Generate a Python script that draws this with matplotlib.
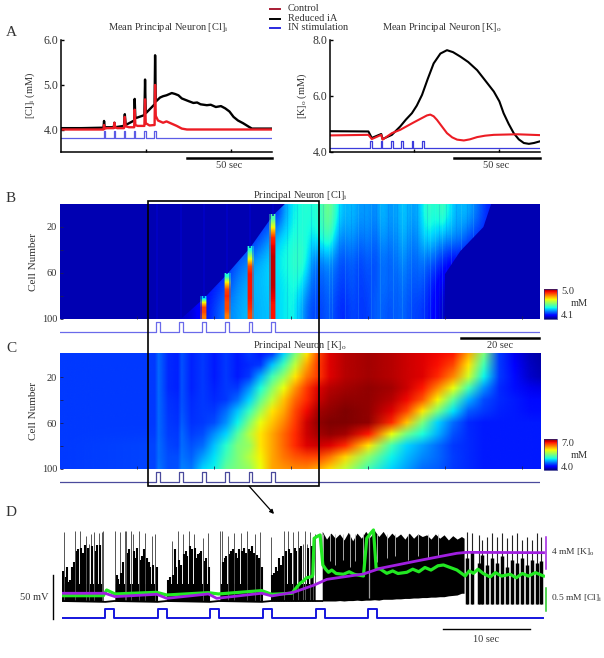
import numpy as np
import matplotlib
matplotlib.use('Agg')
from matplotlib import pyplot as plt
from matplotlib.colors import Normalize
from matplotlib.image import NonUniformImage
from matplotlib.patches import Polygon, Rectangle

plt.rcParams['font.family'] = 'Liberation Serif'
plt.rcParams['mathtext.fontset'] = 'custom'
plt.rcParams['mathtext.rm'] = 'Liberation Serif'
plt.rcParams['mathtext.default'] = 'rm'

W, H = 604, 658
TXT = '#333333'

# --- panel A, mean [Cl]i (time in sec, conc in mM)
cl_black_t = [0, 12, 25, 25.3, 25.7, 31, 31.4, 31.8, 37, 37.5, 38, 43, 43.3, 43.7, 49, 49.4, 49.8, 55, 55.3, 55.7,
              58.2, 60, 62, 65.1, 67, 69, 71, 73, 75, 77.8, 80, 82, 85.7, 88, 91, 94, 96.5, 99, 101.4, 104,
              107, 110, 112.2, 124]
cl_black = [4.03, 4.03, 4.04, 4.19, 4.05, 4.05, 4.15, 4.05, 4.08, 4.34, 4.1, 4.2, 4.68, 4.25, 4.32, 5.11, 4.36, 4.56, 5.65, 4.62,
            4.71, 4.74, 4.76, 4.81, 4.79, 4.76, 4.69, 4.66, 4.63, 4.59, 4.6, 4.56, 4.54, 4.55, 4.5, 4.52, 4.47, 4.4, 4.28, 4.2,
            4.14, 4.07, 4.02, 4.02]
cl_red_t = [0, 25, 25.3, 25.7, 27, 31, 31.4, 31.8, 33, 37, 37.5, 38, 40, 43, 43.3, 43.7, 45, 49, 49.4, 49.8,
            52, 55, 55.3, 55.7, 57, 60, 62, 65, 68, 71, 74, 124]
cl_red = [4.0, 4.0, 4.1, 4.02, 4.03, 4.03, 4.15, 4.05, 4.03, 4.03, 4.28, 4.07, 4.05, 4.05, 4.44, 4.1, 4.08, 4.08, 4.67, 4.14,
          4.09, 4.1, 4.99, 4.3, 4.2, 4.15, 4.18, 4.13, 4.08, 4.02, 4.0, 4.0]

# --- panel A, mean [K]o
k_black_t = [0, 22.8, 24.8, 30.4, 31.2, 36.7, 41.7, 45, 48.6, 51.5, 54.6, 58, 61.5, 65.5, 69.4, 73, 77.4, 82, 87.3, 92,
             97.2, 100.5, 103, 106, 109, 112, 115, 118, 121, 124.6]
k_black = [4.74, 4.73, 4.5, 4.64, 4.46, 4.61, 4.91, 5.15, 5.38, 5.65, 6.03, 6.6, 7.15, 7.5, 7.62, 7.55, 7.39, 7.2, 6.91, 6.55,
           6.15, 5.8, 5.38, 5.0, 4.67, 4.45, 4.32, 4.29, 4.32, 4.38]
k_red_t = [0, 22.8, 24.8, 30.4, 31.2, 36.7, 41.7, 49.6, 55.6, 57.5, 59.5, 61.5, 63.5, 66.5, 69.4, 72.5, 75.4, 79.4, 83, 87.3,
           92, 97.2, 111, 124.6]
k_red = [4.59, 4.61, 4.46, 4.61, 4.44, 4.67, 4.79, 5.05, 5.24, 5.3, 5.33, 5.27, 5.14, 4.9, 4.67, 4.52, 4.44, 4.41, 4.45, 4.53,
         4.58, 4.61, 4.63, 4.6]

stim_on = [25.0, 31.0, 37.0, 42.9, 49.0, 54.9]
stim_k_on = [24.0, 30.2, 36.3, 42.3, 48.4, 54.6]

# --- panel B, [Cl]i over cells (rows) and time (columns)
cl_times = [30, 114]
cl_map = [
    [4.24] * 14 + [4.34, 4.42, 4.44, 4.46, 4.44, 4.49, 4.56, 4.44, 4.36, 4.39, 4.34, 4.36, 4.32, 4.39, 4.34, 4.36, 4.4, 4.34, 4.38,
                   4.49, 4.44, 4.5, 4.42, 4.36, 4.39, 4.34, 4.3, 4.24, 4.24],
    [4.24] * 11 + [4.29, 4.34, 4.39, 4.42, 4.44, 4.46, 4.44, 4.41, 4.46, 4.5, 4.36, 4.32, 4.36, 4.3, 4.34, 4.29, 4.36, 4.32, 4.34,
                   4.38, 4.31, 4.36, 4.42, 4.38, 4.36, 4.34, 4.34, 4.3, 4.26, 4.24, 4.24, 4.24],
    [4.22] * 6 + [4.24, 4.26, 4.3, 4.32, 4.36, 4.38, 4.4, 4.42, 4.44, 4.46, 4.49, 4.44, 4.3, 4.32, 4.34, 4.3, 4.27, 4.31, 4.26,
                  4.3, 4.27, 4.32, 4.29, 4.32, 4.34, 4.29, 4.32, 4.3, 4.28, 4.24] + [4.2] * 7,
    [4.2] * 4 + [4.22, 4.24, 4.26, 4.3, 4.34, 4.36, 4.38, 4.38, 4.4, 4.4, 4.42, 4.44, 4.44, 4.36, 4.29, 4.29, 4.32, 4.28, 4.26,
                 4.3, 4.26, 4.28, 4.28, 4.32, 4.3, 4.3, 4.32, 4.28, 4.3, 4.26, 4.22] + [4.18] * 8,
    [4.16, 4.16, 4.18, 4.22, 4.24, 4.28, 4.32, 4.34, 4.36, 4.38, 4.36, 4.38, 4.38, 4.4, 4.42, 4.44, 4.39, 4.3, 4.27, 4.27, 4.3,
     4.26, 4.24, 4.28, 4.26, 4.26, 4.3, 4.3, 4.28, 4.3, 4.3, 4.27, 4.27, 4.24, 4.21, 4.16] + [4.12] * 7,
]
front_rows = [0, 10, 38, 61, 82, 100]
front_t = [58.4, 55.3, 49.4, 43.4, 37.4, 31.4]
back_rows = [100, 61, 41, 20, 0]
back_t = [100, 100, 104, 110, 112]
stripe_t = [25.3, 31.4, 37.4, 43.4, 49.4, 55.3]
stripe_end = [100, 100, 82, 61, 38, 10]
spike_t = [37.4, 43.4, 49.4, 55.3]
spike_top = [80, 60, 37, 9]
spike_vals = [
    [4.4, 4.7, 4.85, 4.85, 4.8],
    [4.45, 4.7, 4.85, 4.88, 4.85, 4.85, 4.8],
    [4.45, 4.65, 4.85, 4.9, 4.9, 4.9, 4.9, 4.88, 4.85],
    [4.5, 4.7, 4.88, 4.92, 4.95, 4.95, 4.95, 4.95, 4.92, 4.9, 4.9],
]
light_streak_t = [60.5, 62.8, 66.2, 69.9, 70.6, 74.1, 77.3, 80.8, 83.2, 86.4, 88.9, 91.3, 94.6, 96.1, 97.4, 99.2, 101.5, 104.3, 107.2]
dark_streak_t = [58.9, 61.7, 65.1, 68.2, 72.4, 75.6, 78.9, 82, 85.1, 87.6, 90.2, 92.8, 95.3, 98.4, 100.4, 103, 105.8, 109]

# --- panel C, [K]o over cells and time
k_rows = [0, 10, 20, 30, 40, 50, 60, 70, 80, 90, 100]
k_times = [0, 24.5, 25.5, 28, 30.5, 31.5, 34, 37, 40, 43, 46, 49, 52, 55, 58, 61, 64, 67, 70, 74,
           80, 86, 90, 94, 98, 102, 106, 110, 114, 118, 122, 125]
k_map = [
    [4.55, 4.55, 4.68, 4.5, 4.48, 4.62, 4.48, 4.55, 4.45, 4.55, 4.45, 4.55, 4.45, 4.55, 5.0, 5.5, 6.0, 6.5, 6.75, 6.85,
     6.9, 6.85, 6.8, 6.75, 6.7, 6.65, 6.2, 5.5, 4.55, 4.3, 4.15, 4.1],
    [4.55, 4.55, 4.68, 4.5, 4.48, 4.62, 4.48, 4.55, 4.45, 4.55, 4.45, 4.5, 4.55, 4.95, 5.3, 5.75, 6.2, 6.55, 6.75, 6.85,
     6.9, 6.85, 6.8, 6.75, 6.68, 6.5, 6.0, 5.3, 4.55, 4.35, 4.18, 4.12],
    [4.55, 4.55, 4.68, 4.5, 4.48, 4.62, 4.48, 4.55, 4.45, 4.55, 4.45, 4.55, 4.9, 5.3, 5.6, 6.0, 6.35, 6.55, 6.75, 6.85,
     6.9, 6.85, 6.8, 6.75, 6.6, 6.3, 5.8, 5.1, 4.55, 4.4, 4.2, 4.15],
    [4.55, 4.55, 4.68, 4.5, 4.48, 4.62, 4.48, 4.55, 4.47, 4.55, 4.55, 4.8, 5.15, 5.55, 5.9, 6.25, 6.55, 6.75, 6.85, 6.9,
     6.95, 6.9, 6.8, 6.65, 6.3, 5.9, 5.3, 4.8, 4.5, 4.42, 4.3, 4.28],
    [4.55, 4.55, 4.68, 4.52, 4.5, 4.62, 4.5, 4.55, 4.5, 4.55, 4.7, 5.0, 5.4, 5.75, 6.1, 6.4, 6.6, 6.8, 6.9, 6.95,
     6.95, 6.85, 6.7, 6.45, 5.95, 5.4, 4.9, 4.6, 4.5, 4.45, 4.4, 4.4],
    [4.55, 4.55, 4.68, 4.53, 4.51, 4.63, 4.51, 4.55, 4.55, 4.7, 4.95, 5.25, 5.65, 6.0, 6.2, 6.5, 6.7, 6.9, 6.95, 7.0,
     6.95, 6.75, 6.5, 6.0, 5.5, 5.05, 4.65, 4.55, 4.48, 4.45, 4.42, 4.42],
    [4.55, 4.55, 4.68, 4.55, 4.52, 4.65, 4.52, 4.55, 4.6, 4.8, 5.1, 5.5, 5.9, 6.1, 6.3, 6.55, 6.8, 6.95, 7.0, 7.0,
     6.95, 6.6, 6.1, 5.5, 5.0, 4.7, 4.5, 4.45, 4.45, 4.45, 4.45, 4.45],
    [4.55, 4.56, 4.68, 4.56, 4.54, 4.68, 4.56, 4.6, 4.8, 5.0, 5.35, 5.7, 6.0, 6.2, 6.4, 6.6, 6.8, 6.9, 6.95, 6.9,
     6.65, 5.9, 5.45, 5.15, 4.9, 4.62, 4.5, 4.45, 4.45, 4.45, 4.45, 4.45],
    [4.55, 4.58, 4.7, 4.58, 4.56, 4.7, 4.62, 4.7, 4.95, 5.2, 5.5, 5.6, 6.0, 6.2, 6.4, 6.6, 6.75, 6.8, 6.75, 6.6,
     6.0, 5.3, 5.0, 4.85, 4.7, 4.55, 4.5, 4.45, 4.45, 4.45, 4.45, 4.45],
    [4.55, 4.58, 4.7, 4.6, 4.6, 4.72, 4.66, 4.85, 5.05, 5.3, 5.5, 5.7, 5.95, 6.2, 6.35, 6.45, 6.5, 6.5, 6.35, 6.05,
     5.55, 5.1, 4.92, 4.78, 4.68, 4.56, 4.5, 4.45, 4.45, 4.45, 4.45, 4.45],
    [4.55, 4.58, 4.72, 4.6, 4.62, 4.75, 4.72, 5.0, 5.1, 5.4, 5.5, 5.6, 5.9, 6.2, 6.25, 6.3, 6.3, 6.2, 6.05, 5.75,
     5.3, 5.0, 4.85, 4.7, 4.65, 4.55, 4.5, 4.45, 4.45, 4.45, 4.45, 4.45],
]

# --- panel D, voltage trace (mV) and overlays
burst_span = [(0.07, 4.75), (6.09, 10.88), (12.22, 16.93), (18.16, 22.95), (23.98, 29.08)]
burst_tops = [
    [-35, 10, -42, -30, -48, -45, -30, -25, 12, -12, -10, 12, -8, -14, -5, 6, -8, -4, 8, -6, 10, -12, -5, 9, -5, 10, 11],
    [12, -40, -44, 10, -38, -25, 12, 11, -14, -10, 12, 8, -12, -20, -8, 11, -22, -18, -10, 9, -20, -25, -30, 6, -28, 8, -30],
    [-45, -42, 0, -40, -10, -30, 12, -22, -28, 8, -15, -12, -18, 12, -6, -10, 8, -8, -20, -15, -14, -12, 3, -24, -20, 9, -30],
    [12, 12, -25, -20, -18, 6, -15, -12, -10, 9, -14, -20, -10, 9, -12, -8, -14, 12, -10, -12, -6, -14, 8, -16, -20, 10, -30],
    [5, -40, -38, -30, -35, -20, -28, -18, 12, -12, 11, -10, -14, 10, -8, -12, 11, -8, -6, -4, 12, -4, -8, 10, -6, -2, 8],
]
base_t = [0, 5, 6, 11, 12, 17, 18, 23, 24, 29.9]
base_v = [-70, -71, -70, -71, -70, -71, -70, -71, -70, -70]
burst_floor = -50
burst_cap = -4

mass_t = [29.9, 30.4, 30.9, 31.4, 31.9, 32.4, 32.9, 33.4, 33.9, 34.4, 34.9, 35.4, 35.9, 36.4, 36.9, 37.4, 37.9,
          38.4, 38.9, 39.4, 39.9, 40.4, 40.9, 41.4, 41.9, 42.4, 42.9, 43.4, 43.9, 44.4, 44.9, 45.4, 45.9, 46.2]
mass_top = [11, 2, 9, 3, 8, 1, 10, 0, 9, 3, 11, 4, 12, 5, 11, 3, 9,
            4, 8, 2, 9, 3, 8, 5, 7, 2, 8, 3, 7, 1, 6, 2, 5, 3]
mass_low = [-70, -70, -70, -70, -69.5, -70, -69.5, -69.5, -69, -69.5, -69, -69, -68.5, -69, -68, -68, -68,
            -67.5, -67.5, -67, -67, -66.5, -66.5, -66, -66, -65.5, -65.5, -65, -65, -64, -63.5, -63, -61, -61]
notch_t = [30.04, 30.81, 31.38, 32.34, 33.11, 33.68, 34.64, 36.17, 37.32, 38.28, 39.81, 40.96, 42.11, 43.26]
notch_low = [-30, -24, -28, -22, -30, -24, -26, -25, -20, -18, -22, -18, -20, -18]

tail_t = [46.52, 47.09, 47.86, 48.24, 48.82, 49.39, 49.97, 50.54, 51.12, 51.69, 52.27, 52.84, 53.41, 53.99, 54.56, 55.02]
tail_top = [10.7, 8.7, 6.8, 1, 4.9, 8.7, 4.9, 8.7, 2.9, 6.8, 8.7, 1, 4.9, 1, 8.7, 4.9]
tail_mass = [-20, -12, -26, -16, -28, -20, -26, -18, -30, -22, -26, -20, -28, -22, -26, -24]

k_trace_t = [0, 4.94, 6.09, 10.88, 12.03, 16.82, 17.77, 22.95, 24.1, 26.59, 29.0, 30.43, 34.64, 36.56, 40.77, 45.37, 46.52, 55.33]
k_trace = [-61, -61, -64.9, -62.2, -66.9, -61.8, -66.9, -61, -64.1, -59.9, -51.4, -44.8, -38.6, -32, -23.4, -14.5, -13.4, -13.8]
cl_trace_t = [0, 4.75, 5.13, 6.09, 10.88, 12.03, 16.82, 17.97, 22.95, 24.1, 26.4, 27.35, 27.7, 28.1, 28.69, 28.82, 28.97, 29.3, 29.66,
              29.97, 30.3, 30.62, 31, 31.5, 32.34, 33, 33.6, 34.64, 35.02, 35.4, 35.79, 36.1, 36.6, 37.32, 38, 38.6, 39.62, 40.3, 41,
              41.7, 42.4, 43.2, 43.83, 44.6, 45.37, 46.33, 46.8, 47.28, 47.8, 48.4, 49.2, 49.8, 50.5, 51.5, 52.2, 52.9, 53.6, 54.4, 55.33]
cl_trace = [-63.8, -63.8, -57.2, -61.8, -59.9, -63, -60.3, -61.8, -57.9, -62.2, -61, -49.4, -47, -43, -41.7, -39.7, 2.9, 5, 6.8,
            -28.1, -33, -36.6, -34, -38, -38.9, -36, -39, -40.9, 2.9, 8, 12.6, -32, -33, -37.8, -35, -38, -36.6, -33, -36,
            -31, -34, -29, -28.1, -31, -33.9, -40.9, -35, -37.8, -33, -38, -42, -37, -41, -38.9, -43, -38, -41, -37, -40.9]
stim_d_on = [4.9, 11.0, 17.0, 23.1, 29.2, 35.2]


def px_axes(x0, y0, x1, y1):
    # axes placed with picture pixels, y counted from the top
    return fig.add_axes([x0 / W, 1 - y1 / H, (x1 - x0) / W, (y1 - y0) / H])


def stim_trace(onsets, width, t_end, low, high):
    xs, ys = [0], [low]
    for on in onsets:
        xs += [on, on, on + width, on + width]
        ys += [low, high, high, low]
    return xs + [t_end], ys + [low]


def mean_axes(box, ylim, yticks, xlim):
    ax = px_axes(*box)
    ax.set_xlim(xlim)
    ax.set_ylim(ylim)
    ax.patch.set_alpha(0)
    ax.spines['top'].set_visible(False)
    ax.spines['right'].set_visible(False)
    ax.spines['left'].set_linewidth(1.1)
    ax.spines['bottom'].set_linewidth(1.1)
    ax.set_yticks(yticks, ['%.1f' % v for v in yticks], fontsize=8.5, color=TXT)
    ax.set_xticks([50, 100], ['', ''])
    ax.tick_params(direction='in', length=2.5, width=1, pad=2)
    return ax


def heat_axes(box):
    ax = px_axes(*box)
    for s in ax.spines.values():
        s.set_visible(False)
    ax.set_xticks([20, 40, 60, 80, 100, 120], [''] * 6)
    ax.set_yticks([20, 40, 60, 80, 100], ['20', '', '60', '', '100'], fontsize=7.5, color=TXT)
    ax.tick_params(direction='in', length=2, width=0.6, color='#202050', pad=2)
    return ax


def small_cbar(box, cmap, norm):
    cax = px_axes(*box)
    cbar = fig.colorbar(plt.cm.ScalarMappable(norm=norm, cmap=cmap), cax=cax)
    cbar.set_ticks([])
    cbar.outline.set_edgecolor('#202080')
    cbar.outline.set_linewidth(0.5)


fig = plt.figure(figsize=(W / 100, H / 100), dpi=100)

# A
ax1 = mean_axes((61, 39.5, 272, 152), (3.5, 6.0), [4.0, 5.0, 6.0], (0, 124))
ax1.plot(cl_black_t, cl_black, color='k', lw=1.7)
ax1.plot(cl_red_t, cl_red, color='#ec1c24', lw=1.7)
sx, sy = stim_trace(stim_on, 0.8, 124, 3.81, 3.97)
ax1.plot(sx, sy, color='#5c5ce6', lw=0.9)

ax2 = mean_axes((330, 39.5, 540, 152), (4.0, 8.0), [4.0, 6.0, 8.0], (0, 124.6))
ax2.plot(k_black_t, k_black, color='k', lw=1.5)
ax2.plot(k_red_t, k_red, color='#ec1c24', lw=1.5)
sx, sy = stim_trace(stim_k_on, 0.9, 124.6, 4.14, 4.4)
ax2.plot(sx, sy, color='#3c3cdc', lw=0.9)

# B
cmap = plt.get_cmap('jet')
norm_b = Normalize(4.1, 5.0)
ax3 = heat_axes((60, 204, 540, 319))
ax3.set_facecolor(cmap(norm_b(4.14)))
ax3.vlines(stripe_t, 0, stripe_end, color='#0000cc', lw=1.4, alpha=0.7)
im = ax3.imshow(np.array(cl_map), extent=[cl_times[0], cl_times[1], 100, 0], aspect='auto', cmap=cmap, norm=norm_b,
                interpolation='bicubic')
outline = Polygon(list(zip(front_t, front_rows)) + list(zip(back_t, back_rows)), transform=ax3.transData, fc='none', ec='none')
ax3.add_patch(outline)
im.set_clip_path(outline)
for streaks, colour in zip([light_streak_t, dark_streak_t], ['#60f0e0', '#0050e0']):
    lines = ax3.vlines(streaks, 0, 100, color=colour, lw=0.8, alpha=0.16)
    lines.set_clip_path(outline)
for t, top, vals in zip(spike_t, spike_top, spike_vals):
    col = np.array(vals)[:, None]
    ax3.imshow(col, extent=[t - 0.9, t + 0.9, 100, top], aspect='auto', cmap=cmap, norm=norm_b, alpha=0.4, interpolation='bilinear')
    ax3.imshow(col, extent=[t - 0.5, t + 0.5, 100, top], aspect='auto', cmap=cmap, norm=norm_b, interpolation='bilinear')
ax3.set_xlim(0, 124.7)
ax3.set_ylim(100, 0)

ax3s = px_axes(60, 320, 540, 336)
sx, sy = stim_trace(stim_on, 1.0, 124.7, 0.25, 0.85)
ax3s.plot(sx, sy, color='#6a6aea', lw=0.9)
ax3s.set_xlim(0, 124.7)
ax3s.set_ylim(0, 1)
ax3s.axis('off')
small_cbar((544, 288.5, 557, 319), cmap, norm_b)

# C
norm_c = Normalize(4.0, 7.0)
ax4 = heat_axes((60, 354.5, 540, 469))
kim = NonUniformImage(ax4, interpolation='bilinear', cmap=cmap, norm=norm_c)
kim.set_data(k_times, k_rows, np.array(k_map))
ax4.add_image(kim)
ax4.set_xlim(0, 124.7)
ax4.set_ylim(100, 0)

ax4s = px_axes(60, 470, 540, 486)
sx, sy = stim_trace(stim_on, 1.0, 124.7, 0.27, 0.86)
ax4s.plot(sx, sy, color='#4a4a9c', lw=0.9)
ax4s.set_xlim(0, 124.7)
ax4s.set_ylim(0, 1)
ax4s.axis('off')
small_cbar((544, 439, 557, 470), cmap, norm_c)

# D
ax5 = px_axes(62, 525, 545, 625)
ax5.set_xlim(0, 55.5)
ax5.set_ylim(-97.9, 18.4)
ax5.axis('off')
for (t0, t1), tops in zip(burst_span, burst_tops):
    ts = np.linspace(t0, t1, len(tops))
    tops = np.array(tops)
    # tall spikes stay thin and grey, the lower ones make the black mass
    ax5.vlines(ts, -70.5, tops, color='#555555', lw=0.7)
    ax5.vlines(ts[tops < burst_cap], -70.5, tops[tops < burst_cap], color='k', lw=1.5)
    ax5.fill_between([t0, t1], [-70.5, -70.5], [burst_floor, burst_floor], color='k', lw=0)
ax5.plot(base_t, base_v, color='k', lw=1.3)
ax5.fill_between(mass_t, mass_low, mass_top, color='k', lw=0)
ax5.vlines(notch_t, notch_low, 8, color='#c0c0c0', lw=0.6)
ax5.vlines([35.3], -66, 8, color='#9a9a9a', lw=0.9)
ax5.vlines(tail_t, -73, tail_top, color='#222222', lw=0.8)
ax5.vlines(tail_t, -73, tail_mass, color='k', lw=2.5)
ax5.plot(cl_trace_t, cl_trace, color='#22e822', lw=2.3)
ax5.plot(k_trace_t, k_trace, color='#a01fe0', lw=2.0)
sx, sy = stim_trace(stim_d_on, 1.05, 55.3, -89.8, -79.3)
ax5.plot(sx, sy, color='#1515dd', lw=1.4)

# everything placed by pixel on top: legend, titles, bars, box
ov = fig.add_axes([0, 0, 1, 1], zorder=10)
ov.set_xlim(0, W)
ov.set_ylim(H, 0)
ov.axis('off')


def label(x, y, s, size=7.5, ha='center', rot=0):
    ov.text(x, y, s, fontsize=size, ha=ha, va='center', color=TXT, rotation=rot)


for yy, c, s in zip([8.7, 18.5, 28], ['#a81c34', 'k', '#2a2ae0'], ['Control', 'Reduced iA', 'IN stimulation']):
    ov.plot([270, 279.5], [yy, yy], color=c, lw=1.4)
    label(288, yy, s, ha='left')

for x, y, s in zip([6, 6, 6, 6], [33, 199, 349, 513], ['A', 'B', 'C', 'D']):
    label(x, y, s, size=11, ha='left')

label(168, 28, r'Mean Principal Neuron [Cl]$_{i}$')
label(442, 28, r'Mean Principal Neuron [K]$_{o}$')
label(300, 195, r'Principal Neuron [Cl]$_{i}$')
label(300, 346, r'Principal Neuron [K]$_{o}$')
label(30, 95, r'[Cl]$_{i}$ (mM)', rot=90)
label(302, 96, r'[K]$_{o}$ (mM)', rot=90)
label(33, 262, 'Cell Number', size=8, rot=90)
label(33, 411, 'Cell Number', size=8, rot=90)

ov.plot([186.5, 272], [158, 158], color='k', lw=1.8)
label(229, 166, '50 sec')
ov.plot([453.5, 539.5], [158, 158], color='k', lw=1.8)
label(496, 166, '50 sec')
ov.plot([461, 539], [338, 338], color='k', lw=1.8)
label(500, 346, '20 sec')
ov.plot([443, 530], [629, 629], color='k', lw=1.0)
label(486, 639, '10 sec')

label(561, 292, '5.0', ha='left')
label(571, 304, 'mM', ha='left')
label(561, 316, '4.1', ha='left')
label(561, 443, '7.0', ha='left')
label(571, 455, 'mM', ha='left')
label(561, 467, '4.0', ha='left')

ov.add_patch(Rectangle((147.7, 200.7), 170.8, 285, fill=False, ec='k', lw=1.2))
ov.annotate('', xy=(274, 514), xytext=(249, 486), arrowprops=dict(arrowstyle='-|>', lw=0.9, color='k', mutation_scale=6, shrinkA=0, shrinkB=0))

ov.plot([53, 53], [575, 619], color='k', lw=1.0)
label(20, 597, '50 mV', ha='left')
ov.plot([546, 546], [537, 569], color='#a01fe0', lw=1.1)
label(551, 552, r'4 mM [K]$_{o}$', size=6.8, ha='left')
ov.plot([546, 546], [588, 611], color='#22c822', lw=1.1)
label(551, 598, r'0.5 mM [Cl]$_{i}$', size=6.8, ha='left')

fig.savefig('out.png', dpi=100)
plt.close()
